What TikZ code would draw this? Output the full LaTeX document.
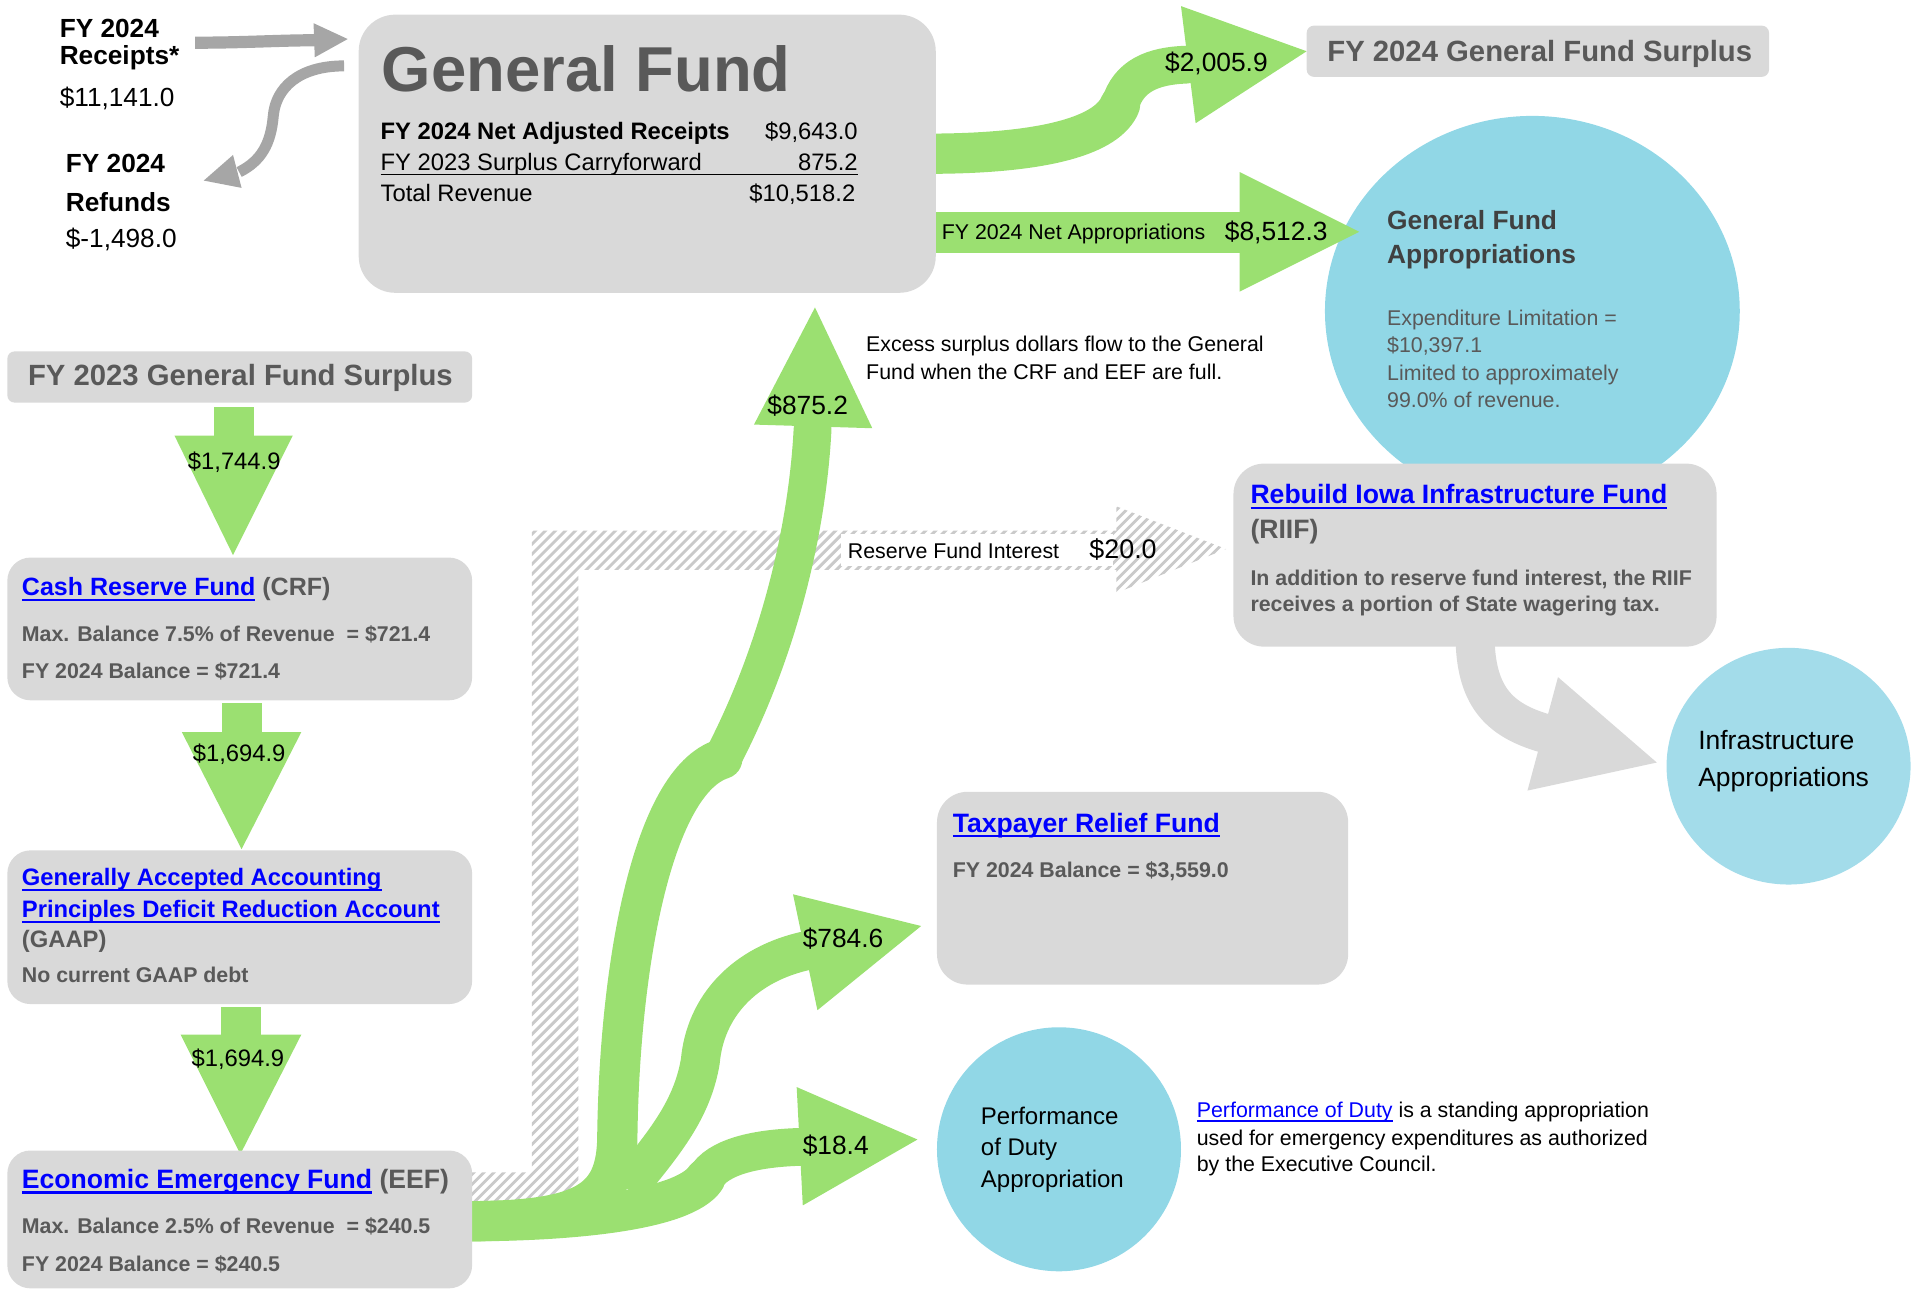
\documentclass[tikz,border=0pt]{standalone}
\usepackage{fontspec}
\setmainfont{Liberation Sans}
\definecolor{grn}{RGB}{155,224,113}
\definecolor{boxg}{RGB}{217,217,217}
\definecolor{txg}{RGB}{89,89,89}
\definecolor{dkg}{RGB}{64,64,64}
\definecolor{arrg}{RGB}{166,166,166}
\definecolor{hatchg}{RGB}{202,202,202}
\definecolor{bluec}{RGB}{145,215,230}
\definecolor{bluel}{RGB}{163,220,234}
\definecolor{lnkc}{RGB}{0,0,255}
\newcommand\fs[1]{\fontsize{#1}{#1}\selectfont}
\newcommand\lnkk[3]{{\color{lnkc}\setbox0\hbox{#3}\rlap{\rule[-#1]{\wd0}{#2}}\box0}}
\newcommand\lnk[1]{\lnkk{4.4pt}{1.8pt}{#1}}
\newcommand\lnks[1]{\lnkk{3.4pt}{1.2pt}{#1}}
\begin{document}
\begin{tikzpicture}[x=1pt,y=-1pt,
  txt/.style={anchor=base west,inner sep=0pt,outer sep=0pt},
  txr/.style={anchor=base east,inner sep=0pt,outer sep=0pt},
  txc/.style={anchor=base,inner sep=0pt,outer sep=0pt},
  gbox/.style={fill=boxg},
  flow/.style={draw=grn,line cap=round},
  hatchline/.style={draw=hatchg,line width=2.4pt}]
\useasboundingbox (0,0) rectangle (1568,1058);

% ellipses
\fill[bluec] (1256,255) ellipse [x radius=170pt, y radius=160pt];
\fill[bluel] (1466,628) ellipse [x radius=100pt, y radius=97pt];
\fill[bluec] (868,942) ellipse [x radius=100pt, y radius=100pt];

% hatched reserve fund interest band
\begin{scope}
\clip (387,961) -- (436,961) -- (436,435) -- (915,435) -- (915,415) -- (1005,450) -- (915,486) -- (915,467) -- (474,467) -- (474,985) -- (387,985) -- cycle;
\foreach \k in {800,808.2,...,1995} \draw[hatchline] ({\k-990},990) -- ({\k-410},410);
\end{scope}
\fill[white] (689,437.5) rectangle (912,464);

% green flows
\fill[grn] (767,174) rectangle (1017,207);
\fill[grn] (1016,141) -- (1114,190) -- (1016,239) -- cycle;
\draw[flow,line width=33pt] (760,126) .. controls (860,126) and (908,110) .. (918,86);
\draw[flow,line width=31pt] (918,86) .. controls (925,62) and (945,54) .. (972,53);
\fill[grn] (968,5) -- (1071,42) -- (980,101) -- cycle;

\draw[flow,line width=33pt] (380,1001) .. controls (480,1001) and (506,985) .. (506,930) .. controls (508,790) and (535,640) .. (592,622);
\draw[flow,line width=31pt] (592,622) .. controls (640,530) and (662,430) .. (666,352);
\fill[grn] (668,252) -- (715,351) -- (618,348) -- cycle;

\draw[flow,line width=32pt] (524,962) .. controls (550,930) and (568,905) .. (574,870) .. controls (578,825) and (610,790) .. (662,779);
\fill[grn] (650,733) -- (755,759) -- (670,828) -- cycle;

\draw[flow,line width=33pt] (380,1001) .. controls (470,1001) and (560,992) .. (578,966);
\draw[flow,line width=31pt] (578,966) .. controls (588,948) and (620,941) .. (657,940);
\fill[grn] (653,891) -- (752,934) -- (658,988) -- cycle;

\fill[grn] (175,334) rectangle (208,358);
\fill[grn] (143,357) -- (240,357) -- (191,455) -- cycle;
\fill[grn] (182,576) rectangle (215,601);
\fill[grn] (149,600) -- (247,600) -- (198,696) -- cycle;
\fill[grn] (181,825) rectangle (214,849);
\fill[grn] (148,848) -- (247,848) -- (197,946) -- cycle;

% gray arrows
\draw[arrg,line width=10pt] (160,35) .. controls (200,35) and (230,33) .. (258,33);
\fill[arrg] (257,19) -- (285,32) -- (258,47) -- cycle;
\draw[arrg,line width=9pt] (282,54) .. controls (245,54) and (226,72) .. (224,95) .. controls (222,118) and (214,132) .. (196,141);
\fill[arrg] (191,127) -- (167,148) -- (198,154) -- cycle;
\draw[boxg,line width=32pt] (1209,520) .. controls (1209,570) and (1228,590) .. (1266,601);
\fill[boxg] (1277,555) -- (1358,625) -- (1252,648) -- cycle;

% boxes
\fill[gbox,rounded corners=30pt] (294,12) rectangle (767,240);
\fill[gbox,rounded corners=6pt] (1071,21) rectangle (1450,63);
\fill[gbox,rounded corners=6pt] (6,288) rectangle (387,330);
\fill[gbox,rounded corners=19pt] (6,457) rectangle (387,574);
\fill[gbox,rounded corners=19pt] (6,697) rectangle (387,823);
\fill[gbox,rounded corners=19pt] (6,943) rectangle (387,1056);
\fill[gbox,rounded corners=25pt] (1011,380) rectangle (1407,530);
\fill[gbox,rounded corners=25pt] (768,649) rectangle (1105,807);

% top-left texts
\node[txt] (r1) at (49,31) {\fs{21.5}\bfseries FY 2024};
\node[txt] (r2) at (49,53) {\fs{21.5}\bfseries Receipts*};
\node[txt] (r3) at (49,87) {\fs{21.5}\$11,141.0};
\node[txt] (f1) at (54,141.5) {\fs{21.5}\bfseries FY 2024};
\node[txt] (f2) at (54,173) {\fs{21.5}\bfseries Refunds};
\node[txt] (f3) at (54,203) {\fs{21.5}\$-1,498.0};

% general fund box
\node[txt] (gft) at (313,75) {\fs{52}\bfseries\color{txg}General Fund};
\node[txt] (gfa) at (312,114) {\fs{19.5}\bfseries FY 2024 Net Adjusted Receipts};
\node[txr] (gfav) at (703,114) {\fs{19.5}\$9,643.0};
\node[txt] (gfb) at (312,139.5) {\fs{19.5}FY 2023 Surplus Carryforward};
\node[txr] (gfbv) at (703,139.5) {\fs{19.5}875.2};
\node[txt] (gfc) at (312,165) {\fs{19.5}Total Revenue};
\node[txr] (gfcv) at (701,165) {\fs{19.5}\$10,518.2};
\draw[line width=1.5pt] (312,143) -- (703,143);

% flow labels
\node[txt] (l2005) at (955,59) {\fs{21.6}\$2,005.9};
\node[txt] (lna) at (772,196) {\fs{17.5}FY 2024 Net Appropriations};
\node[txt] (l8512) at (1004,197) {\fs{21.6}\$8,512.3};
\node[txc] (l875) at (662,340) {\fs{21.6}\$875.2};
\node[txt] (l784) at (658,777) {\fs{21.6}\$784.6};
\node[txt] (l184) at (658,946) {\fs{21.6}\$18.4};
\node[txc] (l1744) at (192,384.5) {\fs{19.5}\$1,744.9};
\node[txc] (l1694a) at (196,624) {\fs{19.5}\$1,694.9};
\node[txc] (l1694b) at (195,874.5) {\fs{19.5}\$1,694.9};

% surplus boxes
\node[txt] (s24) at (1088,50) {\fs{24}\bfseries\color{txg}FY 2024 General Fund Surplus};
\node[txt] (s23) at (23,316) {\fs{24}\bfseries\color{txg}FY 2023 General Fund Surplus};

% general fund appropriations
\node[txt] (ga1) at (1137,188) {\fs{21.6}\bfseries\color{dkg}General Fund};
\node[txt] (ga2) at (1137,216) {\fs{21.6}\bfseries\color{dkg}Appropriations};
\node[txt] (ga3) at (1137,266.5) {\fs{17.5}\color{txg}Expenditure Limitation =};
\node[txt] (ga4) at (1137,289) {\fs{17.5}\color{txg}\$10,397.1};
\node[txt] (ga5) at (1137,311.5) {\fs{17.5}\color{txg}Limited to approximately};
\node[txt] (ga6) at (1137,334) {\fs{17.5}\color{txg}99.0\% of revenue.};

% excess note
\node[txt] (ex1) at (710,288.5) {\fs{17.5}Excess surplus dollars flow to the General};
\node[txt] (ex2) at (710,311) {\fs{17.5}Fund when the CRF and EEF are full.};

% reserve fund interest
\node[txt] (rfi) at (695,457.5) {\fs{17.5}Reserve Fund Interest};
\node[txt] (rfv) at (893,458) {\fs{22}\$20.0};

% RIIF
\node[txt] (ri1) at (1025,413) {\fs{21.8}\bfseries\lnk{Rebuild Iowa Infrastructure Fund}};
\node[txt] (ri2) at (1025,441) {\fs{21.8}\bfseries\color{txg}(RIIF)};
\node[txt] (ri3) at (1025,479.5) {\fs{17.5}\bfseries\color{txg}In addition to reserve fund interest, the RIIF};
\node[txt] (ri4) at (1025,501) {\fs{17.5}\bfseries\color{txg}receives a portion of State wagering tax.};

% infrastructure
\node[txt] (ia1) at (1392,614) {\fs{21.7}Infrastructure};
\node[txt] (ia2) at (1392,645) {\fs{21.7}Appropriations};

% taxpayer relief
\node[txt] (tr1) at (781,682) {\fs{21.8}\bfseries\lnk{Taxpayer Relief Fund}};
\node[txt] (tr2) at (781,719) {\fs{17.5}\bfseries\color{txg}FY 2024 Balance = \$3,559.0};

% performance of duty
\node[txt] (pd1) at (804,922) {\fs{19.7}Performance};
\node[txt] (pd2) at (804,947) {\fs{19.7}of Duty};
\node[txt] (pd3) at (804,973) {\fs{19.7}Appropriation};
\node[txt] (pt1) at (981,916) {\fs{17.5}\lnks{Performance of Duty} is a standing appropriation};
\node[txt] (pt2) at (981,938.5) {\fs{17.5}used for emergency expenditures as authorized};
\node[txt] (pt3) at (981,960.5) {\fs{17.5}by the Executive Council.};

% CRF
\node[txt] (c1) at (18,488) {\fs{20.5}\bfseries\lnk{Cash Reserve Fund}{\color{txg}\ (CRF)}};
\node[txt] (c2) at (18,525.5) {\fs{17.5}\bfseries\color{txg}Max. Balance 7.5\% of Revenue \ = \$721.4};
\node[txt] (c3) at (18,556) {\fs{17.5}\bfseries\color{txg}FY 2024 Balance = \$721.4};

% GAAP
\node[txt] (g1) at (18,726) {\fs{19.5}\bfseries\lnk{Generally Accepted Accounting}};
\node[txt] (g2) at (18,752) {\fs{19.5}\bfseries\lnk{Principles Deficit Reduction Account}};
\node[txt] (g3) at (18,777) {\fs{19.5}\bfseries\color{txg}(GAAP)};
\node[txt] (g4) at (18,805) {\fs{17.5}\bfseries\color{txg}No current GAAP debt};

% EEF
\node[txt] (e1) at (18,974) {\fs{21.8}\bfseries\lnk{Economic Emergency Fund}{\color{txg}\ (EEF)}};
\node[txt] (e2) at (18,1011) {\fs{17.5}\bfseries\color{txg}Max. Balance 2.5\% of Revenue \ = \$240.5};
\node[txt] (e3) at (18,1042) {\fs{17.5}\bfseries\color{txg}FY 2024 Balance = \$240.5};
\end{tikzpicture}
\end{document}
